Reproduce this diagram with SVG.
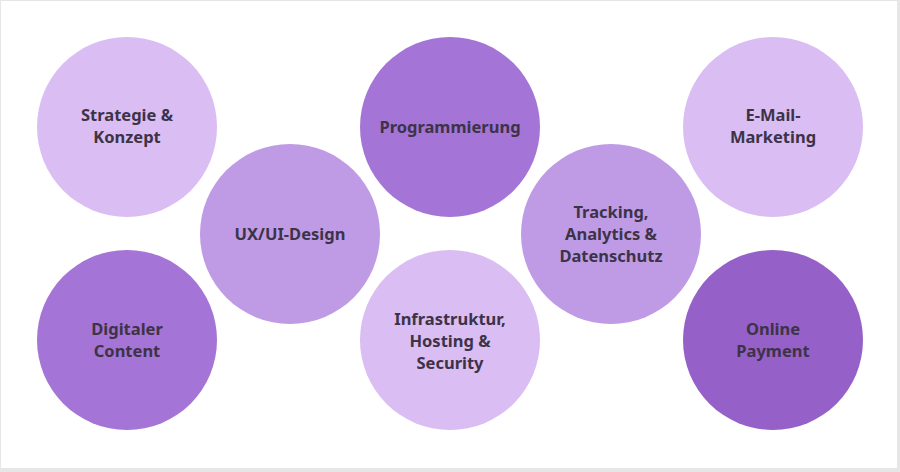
<svg xmlns="http://www.w3.org/2000/svg" width="900" height="472" viewBox="0 0 900 472">
<style>
text{font-family:"Noto Sans","Open Sans",sans-serif;font-weight:700;font-size:16.5px;fill:#3d3347;text-anchor:middle}
.l{fill:#d9bdf3}.m{fill:#bf9be6}.d{fill:#a474d6}.x{fill:#9560c8}
</style>
<rect x="0" y="0" width="900" height="472" fill="#e6e6e6"/>
<rect x="1" y="1" width="896" height="467" fill="#ffffff"/>
<g id="n1"><circle class="l" cx="127" cy="127" r="90"/><text x="127" y="121">Strategie &amp;</text><text x="127" y="143">Konzept</text></g>
<g id="n2"><circle class="d" cx="450" cy="127" r="90"/><text x="450" y="133">Programmierung</text></g>
<g id="n3"><circle class="l" cx="773" cy="127" r="90"/><text x="773" y="121">E-Mail-</text><text x="773" y="143">Marketing</text></g>
<g id="n4"><circle class="m" cx="290" cy="234" r="90"/><text x="290" y="240">UX/UI-Design</text></g>
<g id="n5"><circle class="m" cx="611" cy="234" r="90"/><text x="611" y="218">Tracking,</text><text x="611" y="240">Analytics &amp;</text><text x="611" y="262">Datenschutz</text></g>
<g id="n6"><circle class="d" cx="127" cy="340" r="90"/><text x="127" y="335">Digitaler</text><text x="127" y="357">Content</text></g>
<g id="n7"><circle class="l" cx="450" cy="340" r="90"/><text x="450" y="325">Infrastruktur,</text><text x="450" y="347">Hosting &amp;</text><text x="450" y="369">Security</text></g>
<g id="n8"><circle class="x" cx="773" cy="340" r="90"/><text x="773" y="335">Online</text><text x="773" y="357">Payment</text></g>
<g id="connectors"/>
</svg>
